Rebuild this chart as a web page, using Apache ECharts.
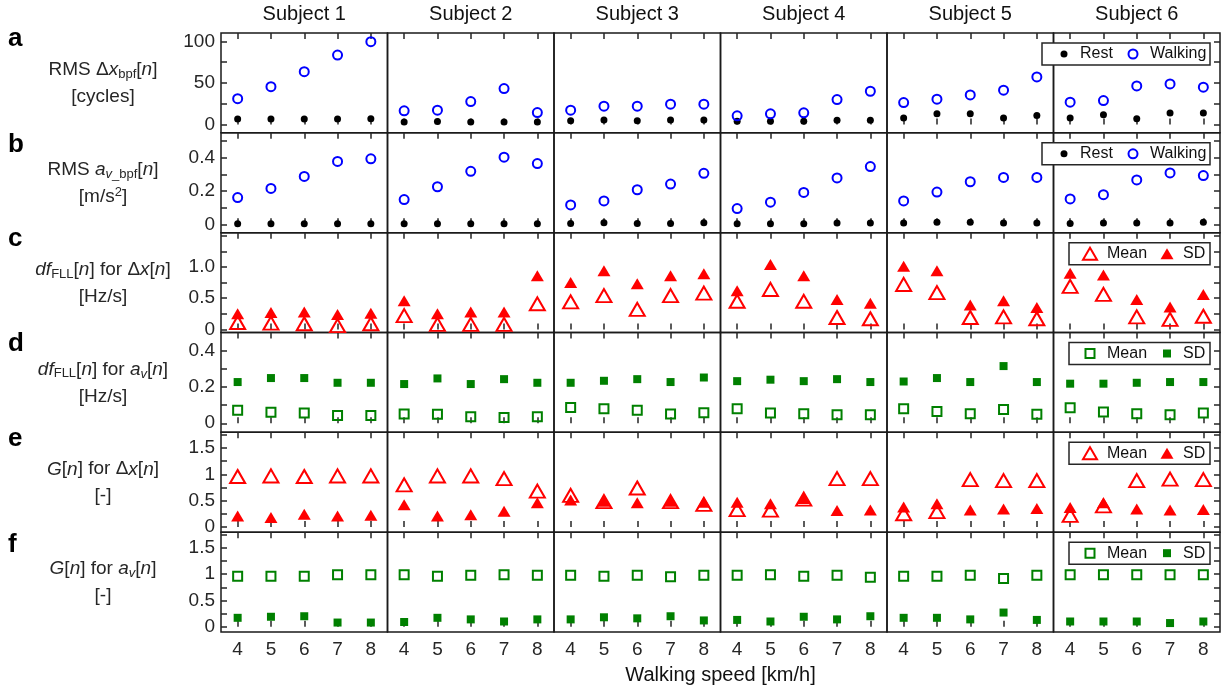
<!DOCTYPE html>
<html><head><meta charset="utf-8">
<script src="https://cdn.jsdelivr.net/npm/echarts@6/dist/echarts.min.js"></script>
<style>html,body{margin:0;padding:0;background:#fff}#c{width:1225px;height:691px}</style>
</head><body><div id="c"></div><script>
// ---------------- data ----------------
const speeds = [4, 5, 6, 7, 8];
const speedTicks = [4, 5, 6, 7, 8];
const subjects = ['Subject 1', 'Subject 2', 'Subject 3', 'Subject 4', 'Subject 5', 'Subject 6'];
const xTitle = 'Walking speed [km/h]';

// a: RMS Δx_bpf[n] [cycles]  (rows = subjects, cols = speeds 4..8)
const rmsDxRest = [
  [6.5, 6.5, 6.5, 6.5, 7], [3, 3.5, 3, 3, 3], [4.5, 5.5, 4.5, 5.5, 5.5],
  [4, 4, 4, 5, 5], [7.7, 12.8, 12.8, 7.7, 10.8], [7.7, 11.6, 6.8, 13.7, 13.7]];
const rmsDxWalk = [
  [31, 45.5, 63.5, 83.5, 99.5], [16.4, 17.2, 27.6, 43.2, 14.4], [17.2, 22, 22, 24.5, 24.5],
  [10.4, 12.8, 14, 30, 40], [26.4, 30.5, 35.6, 41.3, 57.2], [26.9, 28.8, 46.4, 48.8, 44.9]];
// b: RMS a_v_bpf[n] [m/s^2]
const rmsAvRest = [
  [0.003, 0.003, 0.003, 0.003, 0.003], [0.003, 0.003, 0.003, 0.003, 0.003], [0.005, 0.01, 0.005, 0.005, 0.01],
  [0.003, 0.003, 0.003, 0.008, 0.008], [0.008, 0.012, 0.012, 0.008, 0.008], [0.005, 0.008, 0.008, 0.008, 0.012]];
const rmsAvWalk = [
  [0.161, 0.216, 0.288, 0.378, 0.394], [0.149, 0.226, 0.319, 0.404, 0.365], [0.117, 0.141, 0.208, 0.242, 0.307],
  [0.095, 0.133, 0.192, 0.279, 0.347], [0.141, 0.194, 0.256, 0.282, 0.282], [0.153, 0.178, 0.267, 0.309, 0.293]];
// c: df_FLL[n] for Δx[n] [Hz/s]
const dfDxMean = [
  [0.11, 0.10, 0.09, 0.06, 0.09], [0.22, 0.08, 0.08, 0.08, 0.41], [0.44, 0.54, 0.32, 0.54, 0.58],
  [0.45, 0.64, 0.45, 0.19, 0.17], [0.72, 0.59, 0.19, 0.20, 0.17], [0.69, 0.56, 0.20, 0.16, 0.21]];
const dfDxSD = [
  [0.25, 0.27, 0.28, 0.24, 0.26], [0.46, 0.25, 0.28, 0.28, 0.86], [0.75, 0.94, 0.73, 0.86, 0.89],
  [0.62, 1.04, 0.86, 0.48, 0.42], [1.01, 0.94, 0.39, 0.46, 0.35], [0.90, 0.87, 0.48, 0.36, 0.56]];
// d: df_FLL[n] for a_v[n] [Hz/s]
const dfAvMean = [
  [0.071, 0.060, 0.056, 0.043, 0.043], [0.051, 0.049, 0.036, 0.032, 0.036], [0.087, 0.080, 0.071, 0.051, 0.058],
  [0.080, 0.056, 0.053, 0.047, 0.047], [0.080, 0.065, 0.053, 0.076, 0.049], [0.086, 0.062, 0.053, 0.047, 0.056]];
const dfAvSD = [
  [0.227, 0.249, 0.249, 0.223, 0.223], [0.216, 0.247, 0.216, 0.243, 0.223], [0.223, 0.234, 0.243, 0.227, 0.252],
  [0.232, 0.240, 0.232, 0.243, 0.227], [0.230, 0.249, 0.227, 0.315, 0.227], [0.218, 0.218, 0.223, 0.227, 0.227]];
// e: G[n] for Δx[n] [-]
const gDxMean = [
  [0.96, 0.97, 0.96, 0.97, 0.97], [0.80, 0.97, 0.97, 0.92, 0.68], [0.60, 0.48, 0.74, 0.48, 0.43],
  [0.33, 0.32, 0.53, 0.92, 0.92], [0.25, 0.29, 0.90, 0.88, 0.88], [0.22, 0.40, 0.88, 0.91, 0.90]];
const gDxSD = [
  [0.21, 0.18, 0.24, 0.21, 0.22], [0.42, 0.21, 0.23, 0.30, 0.46], [0.51, 0.49, 0.46, 0.49, 0.47],
  [0.47, 0.44, 0.54, 0.31, 0.32], [0.38, 0.44, 0.32, 0.34, 0.35], [0.37, 0.46, 0.34, 0.32, 0.33]];
// f: G[n] for a_v[n] [-]
const gAvMean = [
  [0.96, 0.96, 0.96, 0.99, 0.99], [0.99, 0.96, 0.98, 0.99, 0.98], [0.98, 0.96, 0.98, 0.95, 0.98],
  [0.98, 0.99, 0.96, 0.98, 0.94], [0.96, 0.96, 0.98, 0.92, 0.98], [0.99, 0.99, 0.99, 0.99, 0.99]];
const gAvSD = [
  [0.17, 0.19, 0.20, 0.08, 0.08], [0.09, 0.17, 0.14, 0.10, 0.14], [0.14, 0.18, 0.16, 0.20, 0.12],
  [0.13, 0.10, 0.19, 0.14, 0.20], [0.17, 0.17, 0.14, 0.27, 0.13], [0.10, 0.10, 0.10, 0.07, 0.10]];

// y tick positions / labels per row
const ticksA = [0, 25, 50, 75, 100], labelsA = [0, 50, 100];
const ticksB = [0, 0.1, 0.2, 0.3, 0.4, 0.5], labelsB = [0, 0.2, 0.4];
const ticksC = [0, 0.25, 0.5, 0.75, 1, 1.25, 1.5], labelsC = [0, 0.5, 1];
const ticksD = [0, 0.1, 0.2, 0.3, 0.4], labelsD = [0, 0.2, 0.4];
const ticksE = [0, 0.25, 0.5, 0.75, 1, 1.25, 1.5, 1.75], labelsE = [0, 0.5, 1, 1.5];

// ---------------- styles ----------------
const F = "'Liberation Sans', Arial, Helvetica, sans-serif";
const C = '#262626';
const TR = 'rgba(0,0,0,0)';
const stRest = {symbol: 'circle', symbolSize: 7, itemStyle: {color: '#000', opacity: 1}};
const stWalk = {symbol: 'circle', symbolSize: 9, itemStyle: {color: TR, borderColor: '#0000ff', borderWidth: 2, opacity: 1}};
const stMeanR = {symbol: 'triangle', symbolSize: [15, 13], itemStyle: {color: TR, borderColor: '#ff0000', borderWidth: 2, opacity: 1}};
const stSDR = {symbol: 'triangle', symbolSize: [13, 11], itemStyle: {color: '#ff0000', opacity: 1}};
const stMeanG = {symbol: 'rect', symbolSize: 9, itemStyle: {color: TR, borderColor: '#008000', borderWidth: 2, opacity: 1}};
const stSDG = {symbol: 'rect', symbolSize: 8, itemStyle: {color: '#008000', opacity: 1}};

const rows = [
  {min: -10, max: 110, ticks: ticksA, labels: labelsA, fmt: null, ser: [['Rest', rmsDxRest, stRest], ['Walking', rmsDxWalk, stWalk]], leg: 'rw'},
  {min: -0.05, max: 0.55, ticks: ticksB, labels: labelsB, fmt: null, ser: [['Rest', rmsAvRest, stRest], ['Walking', rmsAvWalk, stWalk]], leg: 'rw'},
  {min: -0.05, max: 1.55, ticks: ticksC, labels: labelsC, fmt: v => (v === 0 ? '0' : v.toFixed(1)), ser: [['Mean', dfDxMean, stMeanR], ['SD', dfDxSD, stSDR]], leg: 'r'},
  {min: -0.05, max: 0.5, ticks: ticksD, labels: labelsD, fmt: null, ser: [['Mean', dfAvMean, stMeanG], ['SD', dfAvSD, stSDG]], leg: 'g'},
  {min: -0.1, max: 1.8, ticks: ticksE, labels: labelsE, fmt: null, ser: [['Mean', gDxMean, stMeanR], ['SD', gDxSD, stSDR]], leg: 'r'},
  {min: -0.1, max: 1.8, ticks: ticksE, labels: labelsE, fmt: null, ser: [['Mean', gAvMean, stMeanG], ['SD', gAvSD, stSDG]], leg: 'g'}
];

const L0 = 221, T0 = 33, W = 999 / 6, H = 599 / 6;
const grids = [], xAxes = [], yAxes = [], series = [];
const tickStyle = {color: C, width: 1.5};

rows.forEach((row, r) => {
  for (let c = 0; c < 6; c++) {
    const gi = r * 6 + c;
    grids.push({left: L0 + c * W, top: T0 + r * H, width: W, height: H, show: true,
      borderColor: '#1a1a1a', borderWidth: 1.5, backgroundColor: TR});
    xAxes.push({gridIndex: gi, type: 'value', min: 3.5, max: 8.5, position: 'bottom',
      axisLine: {show: false}, splitLine: {show: false},
      axisTick: {show: true, inside: true, length: 6, lineStyle: tickStyle, customValues: speedTicks},
      axisLabel: {show: r === 5, customValues: speedTicks, fontSize: 19, fontFamily: F, color: C, margin: 8}});
    xAxes.push({gridIndex: gi, type: 'value', min: 3.5, max: 8.5, position: 'top',
      axisLine: {show: false}, splitLine: {show: false},
      axisTick: {show: true, inside: true, length: 6, lineStyle: tickStyle, customValues: speedTicks},
      axisLabel: {show: false}});
    const edge = c === 0 || c === 5;
    yAxes.push({gridIndex: gi, type: 'value', min: row.min, max: row.max,
      position: c === 5 ? 'right' : 'left',
      axisLine: {show: false}, splitLine: {show: false},
      axisTick: {show: edge, inside: true, length: 6, lineStyle: tickStyle, customValues: row.ticks},
      axisLabel: {show: c === 0, customValues: row.labels, fontSize: 19, fontFamily: F, color: C, margin: 6,
        formatter: row.fmt || undefined}});
    row.ser.forEach(([name, arr, st]) => {
      series.push(Object.assign({
        type: 'scatter', name: name, xAxisIndex: gi * 2, yAxisIndex: gi,
        data: speeds.map((s, k) => [s, arr[c][k]]),
        silent: true, emphasis: {disabled: true}
      }, JSON.parse(JSON.stringify(st))));
    });
  }
});

// ---------------- text & legends (graphic) ----------------
const graphic = [];
function txt(x, y, text, size, opts) {
  const o = Object.assign({fontSize: size, fontFamily: F, fill: C, align: 'center', verticalAlign: 'middle'}, opts || {});
  o.text = text; o.textAlign = o.align; o.textVerticalAlign = o.verticalAlign;
  graphic.push({type: 'text', x: x, y: y, z: 100, style: o});
}
subjects.forEach((s, c) => txt(L0 + (c + 0.5) * W, 14, s, 20, {fill: '#111'}));
txt(L0 + 3 * W, 675, xTitle, 20, {fill: '#111'});

const letters = ['a', 'b', 'c', 'd', 'e', 'f'];
const letterBase = [47, 153, 247, 352, 447, 553];
letters.forEach((l, r) => txt(8, letterBase[r] - 8, l, 26, {fontWeight: 'bold', align: 'left', fill: '#000'}));

const rich = {
  i: {fontSize: 19, fontFamily: F, fontStyle: 'italic', fill: C, lineHeight: 22},
  sub: {fontSize: 13, fontFamily: F, fill: C, lineHeight: 10, verticalAlign: 'bottom'},
  subi: {fontSize: 13, fontFamily: F, fontStyle: 'italic', fill: C, lineHeight: 10, verticalAlign: 'bottom'},
  sup: {fontSize: 13, fontFamily: F, fill: C, lineHeight: 10, verticalAlign: 'top'}
};
const rowLabels = [
  ['RMS Δ{i|x}{sub|bpf}[{i|n}]', '[cycles]'],
  ['RMS {i|a}{subi|v}{sub|_bpf}[{i|n}]', '[m/s{sup|2}]'],
  ['{i|df}{sub|FLL}[{i|n}] for Δ{i|x}[{i|n}]', '[Hz/s]'],
  ['{i|df}{sub|FLL}[{i|n}] for {i|a}{subi|v}[{i|n}]', '[Hz/s]'],
  ['{i|G}[{i|n}] for Δ{i|x}[{i|n}]', '[-]'],
  ['{i|G}[{i|n}] for {i|a}{subi|v}[{i|n}]', '[-]']
];
rowLabels.forEach((ls, r) => {
  const cy = T0 + (r + 0.5) * H;
  txt(103, cy - 13, ls[0], 19, {rich: rich, lineHeight: 22});
  txt(103, cy + 14, ls[1], 19, {rich: rich, lineHeight: 22});
});

rows.forEach((row, r) => {
  const top = T0 + r * H + 10, cy = top + 11;
  const z = 100;
  if (row.leg === 'rw') {
    graphic.push({type: 'rect', z: z, shape: {x: 1042, y: top, width: 168, height: 22}, style: {fill: '#fff', stroke: C, lineWidth: 1.5}});
    graphic.push({type: 'circle', z: z + 1, shape: {cx: 1064, cy: cy, r: 3.5}, style: {fill: '#000'}});
    graphic.push({type: 'circle', z: z + 1, shape: {cx: 1133, cy: cy, r: 4.5}, style: {fill: 'none', stroke: '#0000ff', lineWidth: 2}});
    txt(1080, cy, 'Rest', 16, {align: 'left', fill: '#111'});
    txt(1150, cy, 'Walking', 16, {align: 'left', fill: '#111'});
  } else {
    graphic.push({type: 'rect', z: z, shape: {x: 1069, y: top, width: 141, height: 22}, style: {fill: '#fff', stroke: C, lineWidth: 1.5}});
    if (row.leg === 'r') {
      graphic.push({type: 'polygon', z: z + 1, shape: {points: [[1090, cy - 6], [1083, cy + 6], [1097, cy + 6]]}, style: {fill: 'none', stroke: '#ff0000', lineWidth: 2}});
      graphic.push({type: 'polygon', z: z + 1, shape: {points: [[1167, cy - 5.5], [1160.5, cy + 5.5], [1173.5, cy + 5.5]]}, style: {fill: '#ff0000'}});
    } else {
      graphic.push({type: 'rect', z: z + 1, shape: {x: 1085.5, y: cy - 4.5, width: 9, height: 9}, style: {fill: 'none', stroke: '#008000', lineWidth: 2}});
      graphic.push({type: 'rect', z: z + 1, shape: {x: 1163, y: cy - 4, width: 8, height: 8}, style: {fill: '#008000'}});
    }
    txt(1107, cy, 'Mean', 16, {align: 'left', fill: '#111'});
    txt(1183, cy, 'SD', 16, {align: 'left', fill: '#111'});
  }
});

const chart = echarts.init(document.getElementById('c'), null, {renderer: 'canvas'});
chart.setOption({
  animation: false,
  backgroundColor: '#fff',
  grid: grids, xAxis: xAxes, yAxis: yAxes, series: series, graphic: graphic
});
</script></body></html>
